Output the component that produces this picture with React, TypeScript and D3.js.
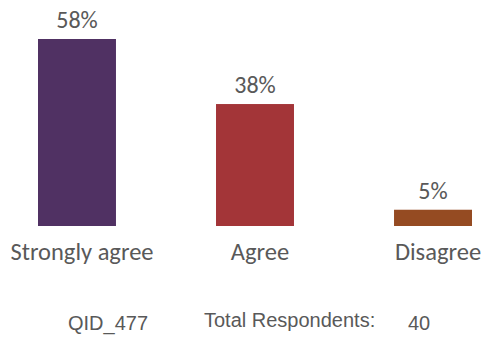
import React from "react";
import * as d3 from "d3";

const categories = ["Strongly agree", "Agree", "Disagree"];
const values = [57.5, 37.5, 5];
const colors = ["#503163", "#A33538", "#954B22"];
const questionId = "QID_477";
const respondentsLabel = "Total Respondents:";
const respondents = 40;

const W = 486;
const H = 337;

export default function App() {
  const x = d3.scaleBand<string>().domain(categories).range([38, 472]).paddingInner(0.562).paddingOuter(0);
  const y = d3.scaleLinear().domain([0, 57.5]).range([226, 39]);
  const labelFont = "Carlito, Calibri, 'Open Sans', sans-serif";
  const footFont = "'Liberation Sans', Arial, sans-serif";
  return (
    <svg width={W} height={H} style={{ position: "absolute", left: 0, top: 0, background: "#fff" }}>
      {categories.map((c, i) => (
        <g key={c}>
          <rect x={x(c)} y={y(values[i])} width={x.bandwidth()} height={y(0) - y(values[i])} fill={colors[i]} />
          <text
            x={(x(c) as number) + x.bandwidth() / 2}
            y={y(values[i]) - 11}
            textAnchor="middle"
            fontFamily={labelFont}
            fontSize={24}
            fill="#595959"
          >
            {Math.round(values[i]) + "%"}
          </text>
          <text
            x={(x(c) as number) + x.bandwidth() / 2 + 5}
            y={260}
            textAnchor="middle"
            fontFamily={labelFont}
            fontSize={24.5}
            fill="#595959"
          >
            {c}
          </text>
        </g>
      ))}
      <text x={68} y={330} fontFamily={footFont} fontSize={20} fill="#595959">
        {questionId}
      </text>
      <text x={204} y={327} fontFamily={footFont} fontSize={20} fill="#595959">
        {respondentsLabel}
      </text>
      <text x={408} y={330} fontFamily={footFont} fontSize={20} fill="#595959">
        {respondents}
      </text>
    </svg>
  );
}
